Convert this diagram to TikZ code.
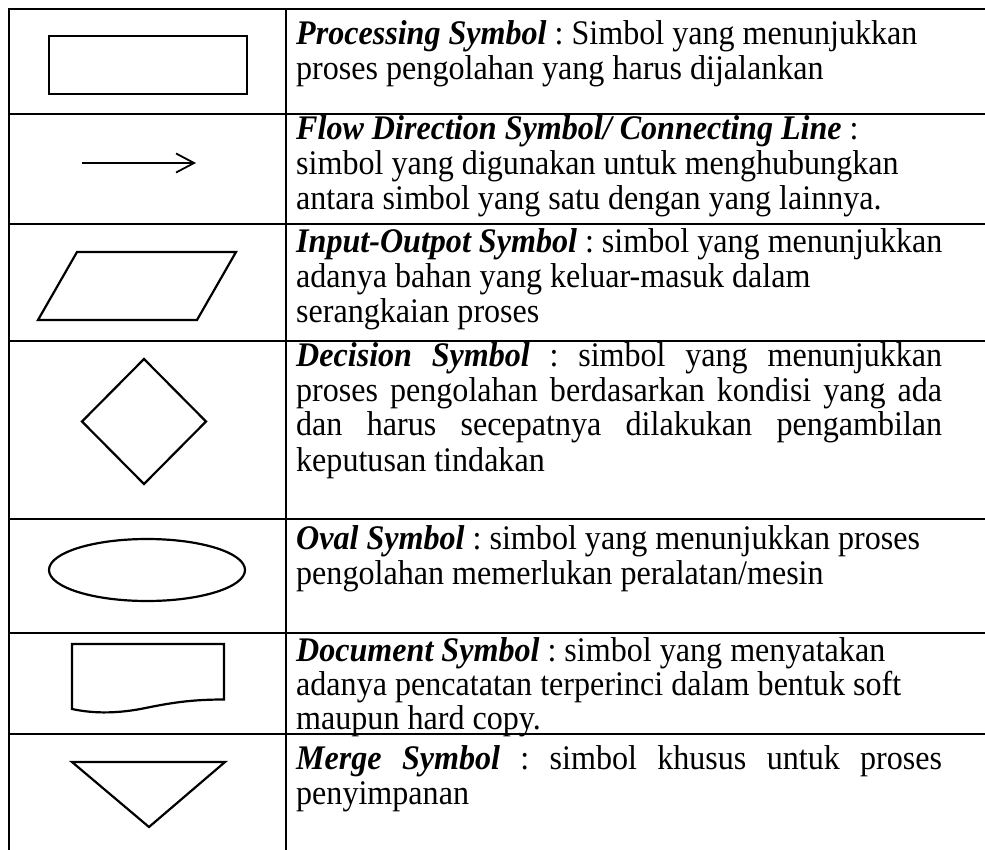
\documentclass[tikz,border=0pt]{standalone}
\usepackage{fontspec}
\setmainfont[FakeStretch=0.93]{Liberation Serif}
\usetikzlibrary{arrows.meta}
\frenchspacing
\newcommand{\bi}[1]{\textbf{\textit{#1}}}
\newcommand{\jline}[1]{\makebox[646pt][s]{#1}}
\tikzset{
  grid/.style={line width=2.6pt, line cap=rect},
  symb/.style={line width=2.2pt, line join=miter},
  desc/.style={anchor=base west, inner sep=0pt, font=\fontsize{34.5}{35}\selectfont},
  desctight/.style={desc, font=\fontsize{34.5}{33.5}\selectfont},
}
\begin{document}
\begin{tikzpicture}[x=1pt, y=-1pt]
\useasboundingbox (0,0) rectangle (985,850);
\fill[white] (0,0) rectangle (985,850);
% table grid
\draw[grid] (9,850) -- (9,9) -- (985,9);
\draw[grid] (286,9) -- (286,850);
\foreach \yy in {114,224,341,519,633,734}{
  \draw[grid] (9,\yy) -- (985,\yy);
}
% symbols
\draw[symb] (49,36) rectangle (247,94);
\coordinate (arrS) at (82,163);
\coordinate (arrE) at (196,163);
\draw[line width=1.8pt, -{Straight Barb[length=18pt,width=19pt,line width=1.8pt]}] (arrS) -- (arrE);
\draw[symb] (77,252) -- (236,252) -- (197,320) -- (38,320) -- cycle;
\draw[symb] (144,359) -- (206,421.5) -- (144,484) -- (82,421.5) -- cycle;
\draw[symb] (147,570) ellipse [x radius=98, y radius=31];
\draw[symb] (72,644) -- (224,644) -- (224,699.5)
  .. controls (195,699.5) and (175,702) .. (148,707.5)
  .. controls (120,713.5) and (95,714) .. (72,709) -- cycle;
\draw[symb] (72,762) -- (225,762) -- (149,827) -- cycle;
% texts
\node[desc] (t1) at (296,45) {\begin{tabular}[t]{@{}l@{}}
\bi{Processing Symbol} : Simbol yang menunjukkan\\
proses pengolahan yang harus dijalankan
\end{tabular}};
\node[desc] (t2) at (296,140) {\begin{tabular}[t]{@{}l@{}}
\bi{Flow Direction Symbol/ Connecting Line} :\\
simbol yang digunakan untuk menghubungkan\\
antara simbol yang satu dengan yang lainnya.
\end{tabular}};
\node[desc] (t3) at (296,253) {\begin{tabular}[t]{@{}l@{}}
\bi{Input-Outpot Symbol} : simbol yang menunjukkan\\
adanya bahan yang keluar-masuk dalam\\
serangkaian proses
\end{tabular}};
\node[desc] (t4) at (296,366) {\begin{tabular}[t]{@{}l@{}}
\jline{\bi{Decision Symbol} : simbol yang menunjukkan}\\
\jline{proses pengolahan berdasarkan kondisi yang ada}\\
\jline{dan harus secepatnya dilakukan pengambilan}\\
keputusan tindakan
\end{tabular}};
\node[desc] (t5) at (296,549) {\begin{tabular}[t]{@{}l@{}}
\bi{Oval Symbol} : simbol yang menunjukkan proses\\
pengolahan memerlukan peralatan/mesin
\end{tabular}};
\node[desctight] (t6) at (296,661) {\begin{tabular}[t]{@{}l@{}}
\bi{Document Symbol} : simbol yang menyatakan\\
adanya pencatatan terperinci dalam bentuk soft\\
maupun hard copy.
\end{tabular}};
\node[desc] (t7) at (296,769) {\begin{tabular}[t]{@{}l@{}}
\jline{\bi{Merge Symbol} : simbol khusus untuk proses}\\
penyimpanan
\end{tabular}};
\end{tikzpicture}
\end{document}
